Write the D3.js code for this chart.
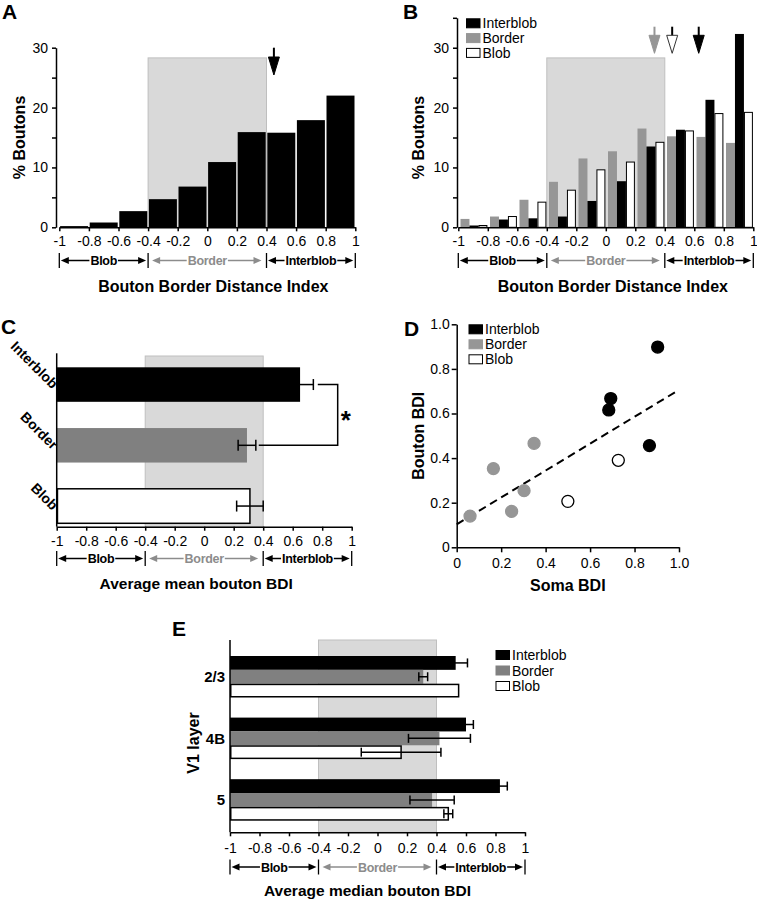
<!DOCTYPE html>
<html><head><meta charset="utf-8">
<script src="https://cdn.jsdelivr.net/npm/d3@7"></script>
<style>
body{margin:0;background:#fff}
svg{display:block}
text{font-family:'Liberation Sans',Arial,Helvetica,sans-serif}
</style>
</head><body><script>
// ---------------- DATA ----------------
const groups = ['Interblob', 'Border', 'Blob'];
const bdiTicks = [-1, -0.8, -0.6, -0.4, -0.2, 0, 0.2, 0.4, 0.6, 0.8, 1];
const binStarts = [-1, -0.8, -0.6, -0.4, -0.2, 0, 0.2, 0.4, 0.6, 0.8];
const regions = [
  {from: -1, to: -0.4, label: 'Blob'},
  {from: -0.4, to: 0.4, label: 'Border'},
  {from: 0.4, to: 1, label: 'Interblob'}
];
const borderZone = [-0.4, 0.4];

// Panel A
const pctA = [0.2, 0.8, 2.7, 4.7, 6.8, 10.9, 15.9, 15.8, 17.9, 22.0];
const meanA = 0.45;

// Panel B
const pctBInterblob = [0.3, 1.3, 1.5, 1.8, 4.4, 7.7, 13.5, 16.3, 21.3, 32.3];
const pctBBorder    = [1.4, 1.8, 4.6, 7.6, 11.5, 12.7, 16.5, 15.2, 15.1, 14.1];
const pctBBlob      = [0.3, 1.8, 4.2, 6.2, 9.6, 10.9, 14.2, 16.1, 19.0, 19.2];
const meanBInterblob = 0.63, meanBBorder = 0.33, meanBBlob = 0.45;

// Panel C
const meanC = [0.65, 0.29, 0.31];
const semC  = [0.09, 0.06, 0.09];

// Panel D
const somaInterblob   = [0.904, 0.693, 0.684, 0.867];
const boutonInterblob = [0.898, 0.667, 0.616, 0.456];
const somaBorder      = [0.06, 0.165, 0.247, 0.303, 0.348];
const boutonBorder    = [0.14, 0.353, 0.161, 0.254, 0.466];
const somaBlob        = [0.50, 0.727];
const boutonBlob      = [0.206, 0.39];
const fitSoma   = [0, 1.0];
const fitBouton = [0.103, 0.706];
const dTicks = [0, 0.2, 0.4, 0.6, 0.8, 1.0];

// Panel E
const layers = ['2/3', '4B', '5'];
const eInterblob    = [0.53, 0.60, 0.83];
const eInterblobSem = [0.08, 0.05, 0.05];
const eBorder       = [0.31, 0.42, 0.37];
const eBorderSem    = [0.03, 0.21, 0.15];
const eBlob         = [0.55, 0.16, 0.48];
const eBlobSem      = [0, 0.27, 0.03];

// ---------------- STYLE ----------------
const GRAY_B = '#969696', GRAY_C = '#808080', SHADE = '#d9d9d9', SHADE_ST = '#bfbfbf', REGION_GRAY = '#8c8c8c';
const fillOf = {Interblob: '#000', Border: GRAY_C, Blob: '#fff'};

const svg = d3.select('body').append('svg').attr('width', 757).attr('height', 900);

function styleAxis(sel, fs) {
  sel.select('.domain').attr('stroke', '#000').attr('stroke-width', 1.5);
  sel.selectAll('.tick line').attr('stroke', '#000').attr('stroke-width', 1.5);
  sel.selectAll('.tick text').attr('fill', '#000').style('font-size', (fs || 14) + 'px');
  sel.attr('font-family', null);
}
const fmtBDI = d => String(d);

function panelLabel(txt, x, y) {
  svg.append('text').attr('x', x).attr('y', y).text(txt)
    .style('font-size', '21px').style('font-weight', 'bold');
}
function boldText(g, txt, x, y, fs, rot, anchor) {
  const t = g.append('text').text(txt).style('font-size', fs + 'px').style('font-weight', 'bold')
    .attr('text-anchor', anchor || 'middle');
  if (rot) t.attr('transform', `translate(${x},${y}) rotate(${rot})`);
  else t.attr('x', x).attr('y', y);
  return t;
}
function arrowHead(g, tipX, y, dir, color) {
  const L = 8, H = 3.5;
  g.append('path').attr('d', `M${tipX},${y}L${tipX - dir * L},${y - H}L${tipX - dir * L},${y + H}Z`).attr('fill', color);
}
function regionRow(g, x, yRow) {
  [-1, -0.4, 0.4, 1].forEach(v => g.append('line').attr('x1', x(v)).attr('x2', x(v))
    .attr('y1', yRow - 7.5).attr('y2', yRow + 7.5).attr('stroke', '#000').attr('stroke-width', 1.3));
  regions.forEach(r => {
    const color = r.label === 'Border' ? REGION_GRAY : '#000';
    const cx = (x(r.from) + x(r.to)) / 2;
    const t = g.append('text').attr('x', cx).attr('y', yRow + 4.5).attr('text-anchor', 'middle')
      .text(r.label).style('font-size', '12.5px').style('font-weight', 'bold').attr('fill', color)
      .style('letter-spacing', '-0.3px');
    const w = t.node().getComputedTextLength();
    const padL = r.label === 'Border' ? 4 : 1.5, padR = r.label === 'Border' ? 5 : 2;
    const xl = x(r.from) + padL, xr = x(r.to) - padR;
    g.append('line').attr('x1', xl + 5).attr('x2', cx - w / 2 - 1).attr('y1', yRow).attr('y2', yRow)
      .attr('stroke', color).attr('stroke-width', 1.5);
    g.append('line').attr('x1', cx + w / 2 + 1).attr('x2', xr - 5).attr('y1', yRow).attr('y2', yRow)
      .attr('stroke', color).attr('stroke-width', 1.5);
    arrowHead(g, xl, yRow, -1, color);
    arrowHead(g, xr, yRow, 1, color);
  });
}
function meanArrow(g, xp, yTop, yTip, fill, stroke, shaft) {
  const headH = 18, headW = 5.5;
  g.append('line').attr('x1', xp).attr('x2', xp).attr('y1', yTop).attr('y2', yTip - headH + 1)
    .attr('stroke', shaft).attr('stroke-width', 2);
  g.append('path').attr('d', `M${xp - headW},${yTip - headH}L${xp + headW},${yTip - headH}L${xp},${yTip}Z`)
    .attr('fill', fill).attr('stroke', stroke).attr('stroke-width', 1);
}
function legend(g, x0, yc0, dy, items) {
  items.forEach((it, i) => {
    const yc = yc0 + i * dy;
    g.append('rect').attr('x', x0).attr('y', yc - 4.5).attr('width', 13.5).attr('height', 9)
      .attr('fill', it.fill).attr('stroke', it.stroke).attr('stroke-width', 1);
    g.append('text').attr('x', x0 + 16).attr('y', yc + 5).text(it.label).style('font-size', '14px');
  });
}
function hErr(g, x, yc, lo, hi, cap) {
  g.append('line').attr('x1', x(lo)).attr('x2', x(hi)).attr('y1', yc).attr('y2', yc)
    .attr('stroke', '#000').attr('stroke-width', 1.5);
  [lo, hi].forEach(v => g.append('line').attr('x1', x(v)).attr('x2', x(v)).attr('y1', yc - cap).attr('y2', yc + cap)
    .attr('stroke', '#000').attr('stroke-width', 1.5));
}

// ---------------- PANEL A ----------------
(function () {
  const g = svg.append('g');
  const x = d3.scaleLinear().domain([-1, 1]).range([59.3, 355.3]);
  const y = d3.scaleLinear().domain([0, 30]).range([227.3, 47.7]);
  g.append('rect').attr('x', x(borderZone[0])).attr('width', x(borderZone[1]) - x(borderZone[0]))
    .attr('y', y(28.3)).attr('height', y(0) - y(28.3)).attr('fill', SHADE).attr('stroke', SHADE_ST);
  g.selectAll('rect.bar').data(binStarts).join('rect').attr('class', 'bar')
    .attr('x', d => x(d) + 0.8).attr('width', d => x(d + 0.2) - x(d) - 1.6)
    .attr('y', (d, i) => y(pctA[i])).attr('height', (d, i) => y(0) - y(pctA[i])).attr('fill', '#000');
  const ya = g.append('g').attr('transform', 'translate(56,0)')
    .call(d3.axisLeft(y).tickValues(d3.range(0, 31, 5)).tickFormat(d => d % 10 === 0 ? d : '').tickSize(4).tickSizeOuter(0).tickPadding(4));
  styleAxis(ya);
  const xa = g.append('g').attr('transform', `translate(0,${y(0)})`)
    .call(d3.axisBottom(x).tickValues(bdiTicks).tickFormat(fmtBDI).tickSize(4).tickSizeOuter(0).tickPadding(5));
  styleAxis(xa);
  regionRow(g, x, 260.5);
  boldText(g, 'Bouton Border Distance Index', (x(-1) + x(1)) / 2 + 6, 292, 16);
  boldText(g, '% Boutons', 25, y(15), 16, -90);
  meanArrow(g, x(meanA), 47.7, 75, '#000', '#000', '#000');
  panelLabel('A', 2, 19);
})();

// ---------------- PANEL B ----------------
(function () {
  const g = svg.append('g');
  const x = d3.scaleLinear().domain([-1, 1]).range([458.3, 753.3]);
  const y = d3.scaleLinear().domain([0, 35]).range([227.3, 17.8]);
  g.append('rect').attr('x', x(borderZone[0])).attr('width', x(borderZone[1]) - x(borderZone[0]))
    .attr('y', y(28.3)).attr('height', y(0) - y(28.3)).attr('fill', SHADE).attr('stroke', SHADE_ST);
  const binPx = x(-0.8) - x(-1);
  const sub = d3.scaleBand().domain(['Border', 'Interblob', 'Blob']).range([2.2, binPx - 0.4]);
  const series = {Interblob: pctBInterblob, Border: pctBBorder, Blob: pctBBlob};
  const fills = {Interblob: '#000', Border: GRAY_B, Blob: '#fff'};
  ['Border', 'Interblob', 'Blob'].forEach(k => {
    g.selectAll(null).data(binStarts).join('rect')
      .attr('x', d => x(d) + sub(k) + (k === 'Blob' ? 0.5 : 0))
      .attr('width', sub.bandwidth() - (k === 'Blob' ? 1 : 0))
      .attr('y', (d, i) => y(series[k][i]))
      .attr('height', (d, i) => y(0) - y(series[k][i]))
      .attr('fill', fills[k]).attr('stroke', k === 'Blob' ? '#000' : 'none').attr('stroke-width', 1);
  });
  const ya = g.append('g').attr('transform', 'translate(457,0)')
    .call(d3.axisLeft(y).tickValues(d3.range(0, 36, 5)).tickFormat(d => d % 10 === 0 ? d : '').tickSize(4).tickSizeOuter(0).tickPadding(4));
  styleAxis(ya);
  const xa = g.append('g').attr('transform', `translate(0,${y(0)})`)
    .call(d3.axisBottom(x).tickValues(bdiTicks).tickFormat(fmtBDI).tickSize(4).tickSizeOuter(0).tickPadding(5));
  styleAxis(xa);
  regionRow(g, x, 260.5);
  boldText(g, 'Bouton Border Distance Index', (x(-1) + x(1)) / 2 + 7, 292, 16);
  boldText(g, '% Boutons', 424, y(15), 16, -90);
  meanArrow(g, x(meanBBorder), 26.7, 53.3, GRAY_B, GRAY_B, GRAY_B);
  meanArrow(g, x(meanBBlob), 26.7, 53.3, '#fff', '#333', '#000');
  meanArrow(g, x(meanBInterblob), 26.7, 53.3, '#000', '#000', '#000');
  legend(g, 466.5, 23.3, 14.8, [
    {label: 'Interblob', fill: '#000', stroke: '#000'},
    {label: 'Border', fill: GRAY_B, stroke: GRAY_B},
    {label: 'Blob', fill: '#fff', stroke: '#000'}]);
  panelLabel('B', 403, 19);
})();

// ---------------- PANEL C ----------------
(function () {
  const g = svg.append('g');
  const x = d3.scaleLinear().domain([-1, 1]).range([56.7, 351.7]);
  const y = d3.scaleBand().domain(groups).range([367.3, 523.3]).paddingInner(0.432).paddingOuter(0);
  const y0 = 526.7;
  g.append('rect').attr('x', x(borderZone[0])).attr('width', x(borderZone[1]) - x(borderZone[0]))
    .attr('y', 356).attr('height', y0 - 356).attr('fill', SHADE).attr('stroke', SHADE_ST);
  groups.forEach((k, i) => {
    const isBlob = k === 'Blob';
    g.append('rect').attr('x', x(-1) + (isBlob ? 0.75 : 0)).attr('y', y(k))
      .attr('width', x(meanC[i]) - x(-1) - (isBlob ? 0.75 : 0)).attr('height', y.bandwidth())
      .attr('fill', fillOf[k]).attr('stroke', isBlob ? '#000' : 'none').attr('stroke-width', 1.5);
  });
  groups.forEach((k, i) => hErr(g, x, y(k) + y.bandwidth() / 2, meanC[i] - semC[i], meanC[i] + semC[i], 5.5));
  g.append('line').attr('x1', 56.7).attr('x2', 56.7).attr('y1', 353.3).attr('y2', y0)
    .attr('stroke', '#000').attr('stroke-width', 1.5);
  const xa = g.append('g').attr('transform', `translate(0,${y0})`)
    .call(d3.axisBottom(x).tickValues(bdiTicks).tickFormat(fmtBDI).tickSize(4).tickSizeOuter(0).tickPadding(5));
  styleAxis(xa);
  regionRow(g, x, 558.5);
  boldText(g, 'Average mean bouton BDI', (x(-1) + x(1)) / 2 - 8, 589, 15.5);
  groups.forEach(k => boldText(g, k, 52, y(k) + y.bandwidth() / 2 + 5, 14, 45, 'end'));
  // significance bracket
  const yi = y('Interblob') + y.bandwidth() / 2, yb = y('Border') + y.bandwidth() / 2;
  g.append('path').attr('d', `M${x(0.77)},${yi}H${x(0.905)}V${yb}H${x(0.37)}`)
    .attr('fill', 'none').attr('stroke', '#000').attr('stroke-width', 1.5);
  boldText(g, '*', x(0.96), (yi + yb) / 2 + 14, 26);
  panelLabel('C', 1, 334);
})();

// ---------------- PANEL D ----------------
(function () {
  const g = svg.append('g');
  const x = d3.scaleLinear().domain([0, 1]).range([456.7, 679]);
  const y = d3.scaleLinear().domain([0, 1]).range([547.3, 324.3]);
  const fmt = d => d === 0 ? '0' : d.toFixed(1);
  const ya = g.append('g').attr('transform', `translate(${x(0)},0)`)
    .call(d3.axisLeft(y).tickValues(dTicks).tickFormat(fmt).tickSize(5).tickSizeOuter(0).tickPadding(2));
  styleAxis(ya);
  const xa = g.append('g').attr('transform', `translate(0,${y(0)})`)
    .call(d3.axisBottom(x).tickValues(dTicks).tickFormat(fmt).tickSize(5).tickSizeOuter(0).tickPadding(6));
  styleAxis(xa);
  g.append('line').attr('x1', x(fitSoma[0])).attr('y1', y(fitBouton[0])).attr('x2', x(fitSoma[1])).attr('y2', y(fitBouton[1]))
    .attr('stroke', '#000').attr('stroke-width', 2).attr('stroke-dasharray', '8,5');
  const pts = (sx, sy, fill, stroke) => g.selectAll(null).data(sx).join('circle')
    .attr('cx', d => x(d)).attr('cy', (d, i) => y(sy[i])).attr('r', 6)
    .attr('fill', fill).attr('stroke', stroke).attr('stroke-width', 1.3);
  pts(somaBorder, boutonBorder, GRAY_B, GRAY_B);
  pts(somaBlob, boutonBlob, '#fff', '#000');
  pts(somaInterblob, boutonInterblob, '#000', '#000');
  legend(g, 469, 329.3, 15, [
    {label: 'Interblob', fill: '#000', stroke: '#000'},
    {label: 'Border', fill: GRAY_B, stroke: GRAY_B},
    {label: 'Blob', fill: '#fff', stroke: '#000'}]);
  boldText(g, 'Bouton BDI', 424, y(0.5), 16, -90);
  boldText(g, 'Soma BDI', x(0.5), 591, 16);
  panelLabel('D', 404, 336);
})();

// ---------------- PANEL E ----------------
(function () {
  const g = svg.append('g');
  const x = d3.scaleLinear().domain([-1, 1]).range([230, 525]);
  const y0 = 832.3;
  const yL = d3.scaleBand().domain(layers).range([656, 820.7]).paddingInner(0.326).paddingOuter(0);
  const yG = d3.scaleBand().domain(groups).range([0, yL.bandwidth()]);
  g.append('rect').attr('x', x(borderZone[0])).attr('width', x(borderZone[1]) - x(borderZone[0]))
    .attr('y', 640).attr('height', y0 - 640).attr('fill', SHADE).attr('stroke', SHADE_ST);
  const vals = {Interblob: eInterblob, Border: eBorder, Blob: eBlob};
  const sems = {Interblob: eInterblobSem, Border: eBorderSem, Blob: eBlobSem};
  layers.forEach((L, li) => {
    groups.forEach(k => {
      const isBlob = k === 'Blob';
      g.append('rect').attr('x', x(-1) + (isBlob ? 0.75 : 0)).attr('y', yL(L) + yG(k) + (isBlob ? 0.75 : 0))
        .attr('width', x(vals[k][li]) - x(-1) - (isBlob ? 0.75 : 0)).attr('height', yG.bandwidth() - (isBlob ? 1.5 : 0))
        .attr('fill', fillOf[k]).attr('stroke', isBlob ? '#000' : 'none').attr('stroke-width', 1.5);
    });
  });
  layers.forEach((L, li) => groups.forEach(k => {
    const s = sems[k][li];
    if (s > 0) hErr(g, x, yL(L) + yG(k) + yG.bandwidth() / 2, vals[k][li] - s, vals[k][li] + s, 4.5);
  }));
  g.append('line').attr('x1', 230).attr('x2', 230).attr('y1', 640).attr('y2', y0)
    .attr('stroke', '#000').attr('stroke-width', 1.5);
  const xa = g.append('g').attr('transform', `translate(0,${y0})`)
    .call(d3.axisBottom(x).tickValues(bdiTicks).tickFormat(fmtBDI).tickSize(4).tickSizeOuter(0).tickPadding(7));
  styleAxis(xa);
  regionRow(g, x, 867);
  boldText(g, 'Average median bouton BDI', (x(-1) + x(1)) / 2 - 10, 896, 15.5);
  layers.forEach(L => boldText(g, L, 225, yL(L) + yG('Border') + yG.bandwidth() / 2 + 5.5, 15, 0, 'end'));
  boldText(g, 'V1 layer', 199, 743, 16, -90);
  legend(g, 496, 655, 15.5, [
    {label: 'Interblob', fill: '#000', stroke: '#000'},
    {label: 'Border', fill: GRAY_C, stroke: GRAY_C},
    {label: 'Blob', fill: '#fff', stroke: '#000'}]);
  panelLabel('E', 172, 636);
})();
</script></body></html>
